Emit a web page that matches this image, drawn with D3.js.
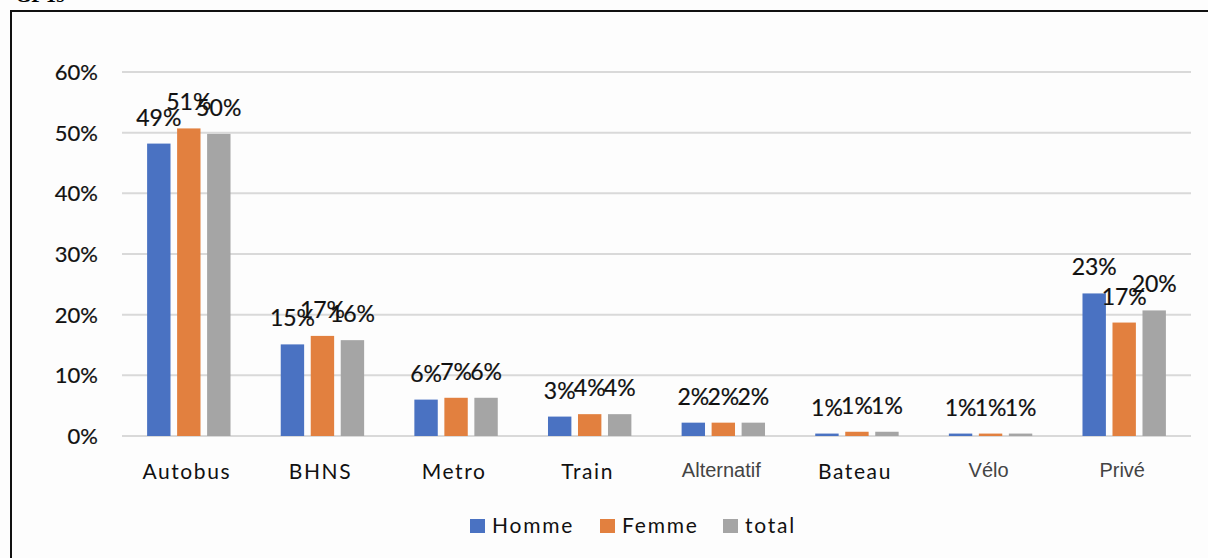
<!DOCTYPE html>
<html><head><meta charset="utf-8">
<script src="https://cdnjs.cloudflare.com/ajax/libs/d3/7.8.5/d3.min.js"></script>
<style>html,body{margin:0;padding:0;background:#fff;overflow:hidden}</style>
</head><body><svg id="c" width="1208" height="558"></svg>
<script>
const categories = ["Autobus","BHNS","Metro","Train","Alternatif","Bateau","Vélo","Privé"];
const series = ["Homme","Femme","total"];
const homme = [0.482,0.151,0.060,0.032,0.022,0.004,0.004,0.235];
const femme = [0.507,0.165,0.063,0.036,0.022,0.007,0.004,0.187];
const total = [0.498,0.158,0.063,0.036,0.022,0.007,0.004,0.207];
const hommeLabels = ["49%","15%","6%","3%","2%","1%","1%","23%"];
const femmeLabels = ["51%","17%","7%","4%","2%","1%","1%","17%"];
const totalLabels = ["50%","16%","6%","4%","2%","1%","1%","20%"];
const yTicks = [0,0.1,0.2,0.3,0.4,0.5,0.6];
const yTickLabels = ["0%","10%","20%","30%","40%","50%","60%"];
const arialCats = ["Alternatif","Vélo","Privé"];

const colors = {Homme:"#4A72C2", Femme:"#E2803F", total:"#A5A5A5"};
const values = {Homme:homme, Femme:femme, total:total};
const labels = {Homme:hommeLabels, Femme:femmeLabels, total:totalLabels};

const svg = d3.select("#c");
svg.append("rect").attr("width",1208).attr("height",558).attr("fill","#fdfdfd");
svg.append("text").attr("x",15).attr("y",2).attr("font-family","Liberation Serif")
  .attr("font-weight","bold").attr("font-size",21).attr("fill","#000").text("GPTs");
svg.append("rect").attr("x",11).attr("y",11).attr("width",1220).attr("height",600)
  .attr("fill","#fdfdfd").attr("stroke","#111").attr("stroke-width",2);

const x0 = d3.scaleBand().domain(categories).range([122,1191]);
const x1 = d3.scaleBand().domain(series).range([-45,45]).paddingInner(0.22).paddingOuter(0.11);
const y = d3.scaleLinear().domain([0,0.6]).range([436,72]);

const fontC = "Lato, 'Open Sans', sans-serif";

// gridlines
svg.append("g").selectAll("line").data(yTicks).join("line")
  .attr("x1",122).attr("x2",1191).attr("y1",d=>y(d)).attr("y2",d=>y(d))
  .attr("stroke","#d9d9d9").attr("stroke-width",2);

// y tick labels
svg.append("g").selectAll("text").data(yTicks).join("text")
  .attr("x",98).attr("y",d=>y(d)+8).attr("text-anchor","end")
  .attr("font-family",fontC).attr("font-size",22).attr("fill","#111")
  .attr("stroke","#111").attr("stroke-width",0.2)
  .text((d,i)=>yTickLabels[i]);

// bars
const groups = svg.append("g").selectAll("g").data(categories).join("g")
  .attr("transform",d=>`translate(${x0(d)+x0.bandwidth()/2},0)`);
series.forEach(s=>{
  groups.append("rect")
    .attr("x",x1(s)).attr("width",x1.bandwidth())
    .attr("y",(d,i)=>y(values[s][i])).attr("height",(d,i)=>y(0)-y(values[s][i]))
    .attr("fill",colors[s]);
});
series.forEach(s=>{
  groups.append("text")
    .attr("x",x1(s)+x1.bandwidth()/2).attr("y",(d,i)=>y(values[s][i])-18)
    .attr("text-anchor","middle").attr("font-family",fontC).attr("font-size",23)
    .attr("fill","#111").attr("stroke","#111").attr("stroke-width",0.2)
    .text((d,i)=>labels[s][i]);
});

// category labels
svg.append("g").selectAll("text").data(categories).join("text")
  .attr("x",d=>x0(d)+x0.bandwidth()/2-2).attr("y",d=>arialCats.includes(d)?477:479)
  .attr("text-anchor","middle")
  .attr("font-family",d=>arialCats.includes(d)?"Liberation Sans, Arial":fontC)
  .attr("font-size",d=>arialCats.includes(d)?20:21)
  .attr("letter-spacing",d=>arialCats.includes(d)?0:1.6)
  .attr("fill",d=>arialCats.includes(d)?"#444":"#111")
  .text(d=>d);

// legend
const legX = [470,600,723];
const leg = svg.append("g").selectAll("g").data(series).join("g")
  .attr("transform",(d,i)=>`translate(${legX[i]},519)`);
leg.append("rect").attr("width",15).attr("height",14).attr("fill",d=>colors[d]);
leg.append("text").attr("x",22).attr("y",14).attr("font-family",fontC).attr("font-size",21)
  .attr("letter-spacing",1.8).attr("fill","#111")
  .text(d=>d);
</script></body></html>
